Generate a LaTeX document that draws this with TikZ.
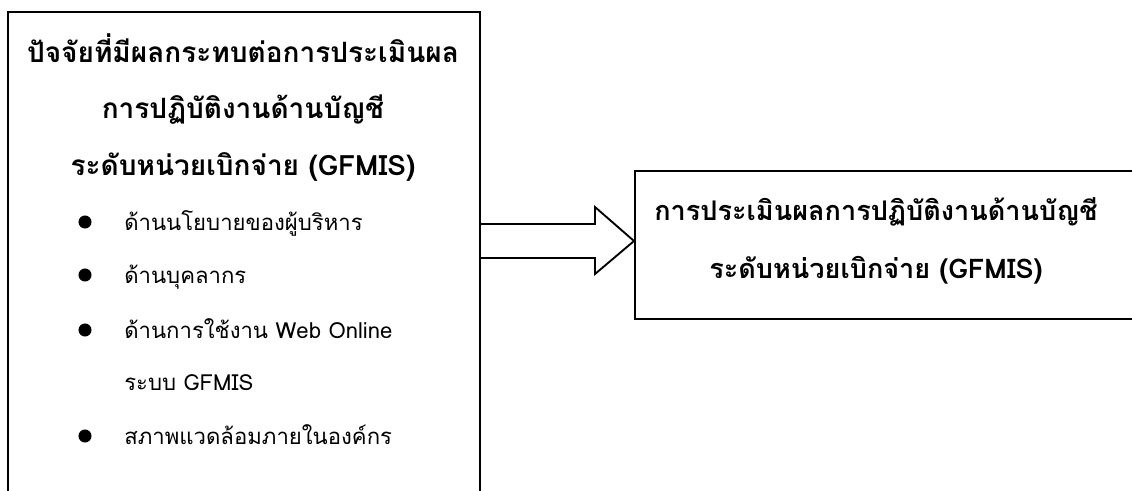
\documentclass[tikz,border=0pt]{standalone}
\usepackage{fontspec}
\newfontfamily\thaifont[Script=Thai]{Loma}
\begin{document}
\begin{tikzpicture}[x=0.75pt,y=-0.75pt,
  frame/.style={draw=black,line width=1.4pt},
  headtxt/.style={anchor=base,font=\thaifont\bfseries\fontsize{21}{25}\selectfont,inner sep=0pt},
  righttxt/.style={anchor=base,font=\thaifont\bfseries\fontsize{20.3}{24}\selectfont,inner sep=0pt},
  itemtxt/.style={anchor=base west,font=\thaifont\fontsize{16.6}{19}\selectfont,inner sep=0pt},
  dot/.style={circle,fill=black,minimum size=9.8pt,inner sep=0pt}]
\useasboundingbox (0,0) rectangle (1132,490);
\clip (0,0) rectangle (1132,490);
% boxes
\node[frame,rectangle,minimum width=354pt,minimum height=450pt,anchor=north west,inner sep=0pt] (leftbox) at (7,11) {};
\node[frame,rectangle,minimum width=390pt,minimum height=111pt,anchor=north west,inner sep=0pt] (rightbox) at (634,170) {};
% left heading
\node[headtxt] (h1) at (243,62) {ปัจจัยที่มีผลกระทบต่อการประเมินผล};
\node[headtxt] (h2) at (243,118) {การปฏิบัติงานด้านบัญชี};
\node[headtxt] (h3) at (243,175) {ระดับหน่วยเบิกจ่าย (GFMIS)};
% bullets
\node[dot] (b1) at (85,222) {};
\node[itemtxt] (t1) at (124,230) {ด้านนโยบายของผู้บริหาร};
\node[dot] (b2) at (85,275) {};
\node[itemtxt] (t2) at (124,283) {ด้านบุคลากร};
\node[dot] (b3) at (85,330) {};
\node[itemtxt] (t3) at (124,338) {ด้านการใช้งาน Web Online};
\node[itemtxt] (t3b) at (124,390) {ระบบ GFMIS};
\node[dot] (b4) at (85,436) {};
\node[itemtxt] (t4) at (124,444) {สภาพแวดล้อมภายในองค์กร};
% right text
\node[righttxt] (r1) at (876,220) {การประเมินผลการปฏิบัติงานด้านบัญชี};
\node[righttxt] (r2) at (876,278) {ระดับหน่วยเบิกจ่าย (GFMIS)};
% block arrow
\coordinate (a1) at (leftbox.east |- 0,224);
\coordinate (a2) at (595,224);
\coordinate (a3) at (595,207);
\coordinate (tip) at (rightbox.west |- 0,241);
\coordinate (a5) at (595,274);
\coordinate (a6) at (595,258);
\coordinate (a7) at (leftbox.east |- 0,258);
\draw[frame,line join=miter] (a1) -- (a2) -- (a3) -- (tip) -- (a5) -- (a6) -- (a7);
\end{tikzpicture}
\end{document}
